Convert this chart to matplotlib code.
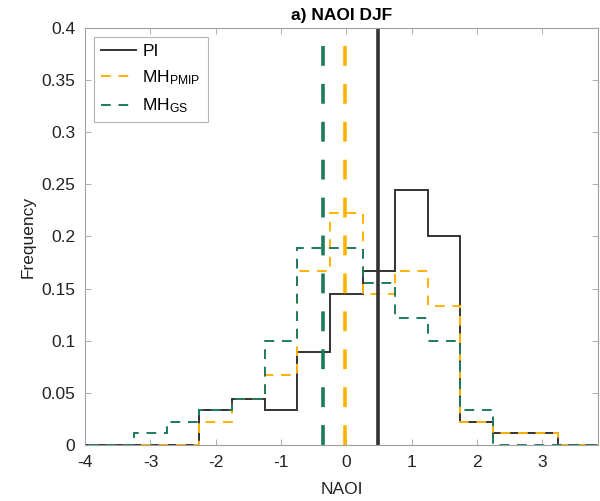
import numpy as np
import matplotlib.pyplot as plt

plt.rcParams['font.family'] = ['Liberation Sans', 'DejaVu Sans']
plt.rcParams['axes.unicode_minus'] = False
plt.rcParams['mathtext.fontset'] = 'custom'
plt.rcParams['mathtext.rm'] = 'Liberation Sans'
plt.rcParams['mathtext.it'] = 'Liberation Sans'

# histogram bins (width 0.5) and frequencies (counts / 90)
bin_edges = [-4.75, -4.25, -3.75, -3.25, -2.75, -2.25, -1.75, -1.25, -0.75,
             -0.25, 0.25, 0.75, 1.25, 1.75, 2.25, 2.75, 3.25, 3.75, 4.25]
pi_counts = [0, 0, 0, 0, 0, 3, 4, 3, 8, 13, 15, 22, 18, 2, 1, 1, 0, 0]
pmip_counts = [0, 0, 0, 0, 0, 2, 4, 6, 15, 20, 13, 15, 12, 2, 1, 1, 0, 0]
gs_counts = [0, 0, 0, 1, 2, 3, 4, 9, 17, 17, 14, 11, 9, 3, 0, 0, 0, 0]
n_years = 90

# means (vertical lines)
pi_mean = 0.49
pmip_mean = -0.02
gs_mean = -0.35

c_pi = '#333333'
c_pmip = '#FFB300'
c_gs = '#1E7A5C'
c_frame = '#A0A0A0'
c_text = '#222222'

fig = plt.figure(figsize=(6.0, 5.01), dpi=100)
ax = fig.add_axes([0.142, 0.112, 0.855, 0.832])

edges = np.array(bin_edges)
ax.stairs(np.array(pi_counts) / n_years, edges, color=c_pi, lw=1.4, label='PI')
ax.stairs(np.array(pmip_counts) / n_years, edges, color=c_pmip, lw=1.4,
          linestyle=(0, (5, 4)), label=r'MH$_{\mathrm{PMIP}}$')
ax.stairs(np.array(gs_counts) / n_years, edges, color=c_gs, lw=1.4,
          linestyle=(0, (5, 4)), label=r'MH$_{\mathrm{GS}}$')

ax.axvline(pi_mean, color=c_pi, lw=2.6)
ax.axvline(pmip_mean, color=c_pmip, lw=2.6, linestyle=(0, (5.5, 5)))
ax.axvline(gs_mean, color=c_gs, lw=2.6, linestyle=(0, (5.5, 5)))

ax.set_xlim(-4, 3.86)
ax.set_ylim(0, 0.4)
ax.set_xticks(np.arange(-4, 4, 1))
ax.set_yticks(np.arange(0, 0.401, 0.05))
ax.set_yticklabels(['0', '0.05', '0.1', '0.15', '0.2', '0.25', '0.3', '0.35', '0.4'])

ax.tick_params(direction='in', length=4, width=0.6, colors=c_frame,
               labelcolor=c_text, labelsize=12.5, top=True, right=True)
ax.tick_params(axis='x', pad=7)
ax.tick_params(axis='y', pad=7)
for s in ax.spines.values():
    s.set_color(c_frame)
    s.set_linewidth(0.8)

ax.set_xlabel('NAOI', fontsize=12.5, color=c_text, labelpad=9)
ax.set_ylabel('Frequency', fontsize=12.5, color=c_text, labelpad=4)
ax.set_title('a) NAOI DJF', fontsize=12.5, fontweight='bold', pad=6)

leg = ax.legend(loc='upper left', fontsize=12.5, frameon=True, fancybox=False,
                handlelength=2.0, handletextpad=0.4, borderaxespad=0.5,
                labelspacing=0.55, borderpad=0.4)
leg.get_frame().set_edgecolor(c_frame)
leg.get_frame().set_linewidth(0.8)

fig.savefig('out.png', dpi=100)
